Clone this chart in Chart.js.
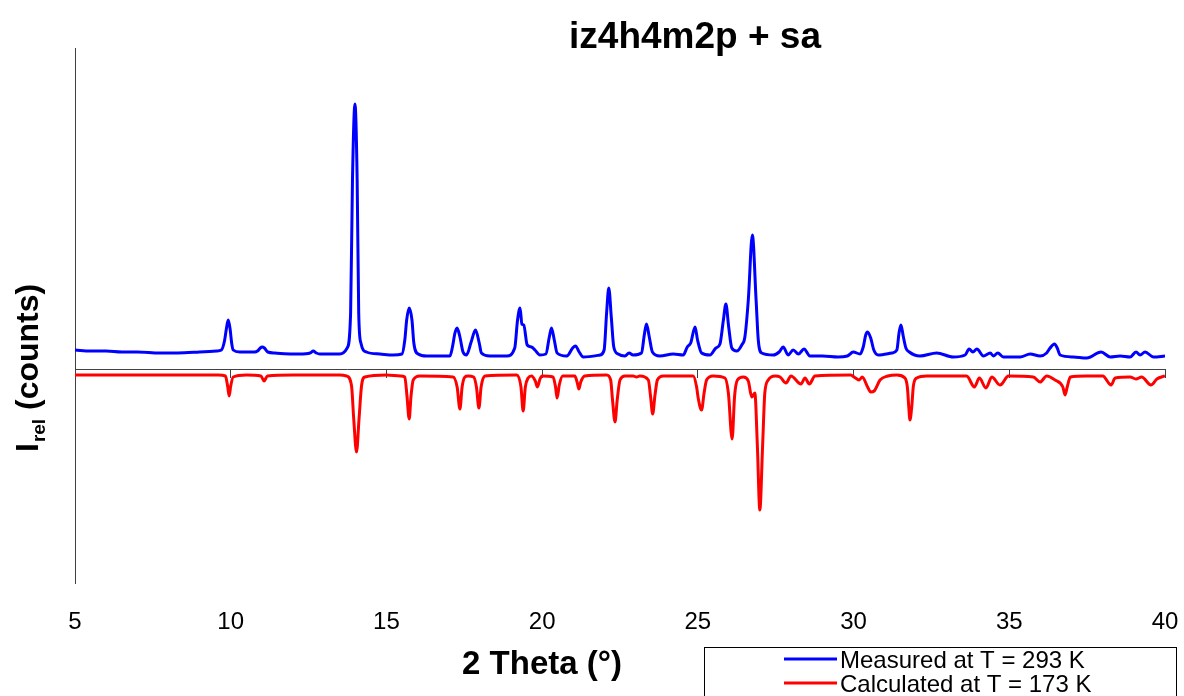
<!DOCTYPE html>
<html><head><meta charset="utf-8">
<script src="https://cdn.jsdelivr.net/npm/chart.js@4.4.1/dist/chart.umd.min.js"></script>
<style>html,body{margin:0;padding:0;background:#fff;}canvas{display:block;}</style>
</head><body>
<canvas id="c" width="1184" height="696"></canvas>
<script>
const chartTitle = 'iz4h4m2p + sa';
const xAxisTitle = '2 Theta (°)';
const yTitleMain = 'I';
const yTitleSub = 'rel';
const yTitleRest = ' (counts)';
const xTicks = [5, 10, 15, 20, 25, 30, 35, 40];
const measuredLabel = 'Measured at T = 293 K';
const calculatedLabel = 'Calculated at T = 173 K';

const measuredX = [5.00,5.50,6.00,6.50,7.00,7.72,8.30,9.00,9.55,9.70,9.80,9.86,9.92,9.98,10.03,10.08,10.29,10.77,10.86,10.95,11.01,11.08,11.19,11.42,12.22,12.55,12.65,12.75,12.86,13.50,13.74,13.85,13.91,13.99,14.06,14.11,14.18,14.36,14.79,15.22,15.50,15.59,15.65,15.73,15.82,15.88,16.02,16.29,17.04,17.12,17.20,17.27,17.36,17.46,17.57,17.72,17.86,17.98,18.05,18.32,18.86,19.12,19.21,19.29,19.35,19.41,19.52,19.66,19.77,19.93,20.12,20.23,20.30,20.39,20.48,20.79,20.98,21.07,21.19,21.32,21.86,21.99,22.07,22.14,22.22,22.30,22.44,22.66,22.79,22.92,23.19,23.28,23.35,23.44,23.54,23.78,24.21,24.53,24.66,24.77,24.91,24.99,25.12,25.39,25.58,25.71,25.82,25.90,25.99,26.09,26.25,26.41,26.51,26.62,26.75,26.87,26.94,27.05,27.42,27.61,27.74,27.90,28.06,28.23,28.41,28.60,29.00,29.50,29.80,29.99,30.21,30.31,30.39,30.45,30.55,30.65,30.79,31.23,31.39,31.46,31.52,31.60,31.68,31.79,32.13,32.67,33.20,33.58,33.71,33.83,33.96,34.17,34.39,34.49,34.63,34.81,35.35,35.67,35.99,36.20,36.31,36.45,36.54,36.63,37.06,37.49,37.95,38.24,38.56,38.88,39.07,39.20,39.36,39.63,40.00];
const measuredY = [19,18,18,17,17,16,16,17,18,19,28,40,49,40,26,19,17,17,18,21,22,21,17,16,15,16,18,16,15,15,21,56,189,265,189,56,26,17,15,14,15,29,49,61,49,26,15,13,13,22,36,41,32,17,14,27,39,26,16,13,13,21,49,61,45,44,24,22,19,14,15,32,41,29,16,13,21,23,17,12,14,19,56,81,52,22,15,13,16,14,16,34,45,32,17,13,15,14,22,26,42,29,16,14,21,25,49,65,42,21,18,24,32,69,134,69,29,16,14,17,22,14,19,15,20,13,13,12,13,17,15,22,34,37,31,19,14,16,19,36,44,32,21,17,13,16,12,14,20,17,20,13,16,13,16,12,12,15,13,16,21,25,21,14,12,11,17,12,13,12,17,14,17,12,13];

const calculatedX = [5.00,9.60,9.83,9.90,9.95,10.00,10.08,10.50,10.97,11.07,11.18,12.00,13.50,13.72,13.88,13.95,14.04,14.12,14.20,14.31,15.00,15.45,15.59,15.66,15.73,15.79,15.86,16.07,17.14,17.27,17.36,17.43,17.52,17.62,17.80,17.89,17.97,18.04,18.16,19.18,19.32,19.39,19.46,19.55,19.66,19.78,19.85,19.93,20.00,20.35,20.43,20.48,20.55,20.66,21.05,21.13,21.18,21.24,21.37,22.07,22.20,22.26,22.34,22.41,22.50,22.66,22.92,23.03,23.14,23.41,23.48,23.55,23.62,23.70,23.89,24.85,24.96,25.01,25.12,25.20,25.28,25.49,25.87,25.98,26.10,26.18,26.27,26.46,26.62,26.73,26.83,26.91,26.99,27.08,27.15,27.26,27.48,27.64,27.83,27.99,28.31,28.44,28.58,28.76,29.90,30.06,30.18,30.28,30.45,30.55,30.66,30.85,31.10,31.39,31.65,31.73,31.77,31.81,31.87,31.92,32.03,32.35,33.63,33.88,34.04,34.25,34.44,34.70,34.76,34.97,35.77,35.99,36.20,36.47,36.72,36.79,36.86,36.96,37.48,38.00,38.27,38.40,38.88,39.07,39.25,39.55,39.74,40.00];
const calculatedY = [-6,-6,-7,-17,-27,-17,-8,-6,-7,-12,-7,-6,-6,-7,-17,-50,-83,-50,-17,-8,-6,-7,-8,-27,-50,-27,-11,-7,-8,-18,-40,-18,-8,-7,-8,-18,-39,-18,-7,-6,-18,-42,-18,-9,-7,-12,-18,-10,-7,-8,-18,-29,-16,-7,-7,-14,-20,-13,-7,-6,-11,-31,-53,-31,-11,-7,-7,-8,-7,-11,-27,-45,-27,-11,-7,-7,-18,-29,-41,-24,-11,-7,-9,-24,-70,-27,-11,-8,-12,-28,-24,-76,-141,-76,-24,-11,-7,-8,-14,-7,-15,-9,-15,-7,-6,-9,-11,-8,-18,-23,-22,-11,-7,-6,-9,-19,-37,-51,-37,-17,-9,-7,-7,-18,-9,-19,-8,-16,-15,-7,-8,-13,-7,-11,-18,-26,-18,-8,-7,-7,-16,-9,-8,-10,-8,-16,-10,-7];

const FONT = '"Liberation Sans", Arial, Helvetica, sans-serif';

function zip(xs, ys) { return xs.map((x, i) => ({ x: x, y: ys[i] })); }
function setTicks(scale) { scale.ticks = xTicks.map(v => ({ value: v })); }
function noSidePad(s) { s.paddingLeft = 0; s.paddingRight = 0; }

const textPlugin = {
  id: 'texts',
  afterDraw(chart) {
    const ctx = chart.ctx;
    ctx.save();
    ctx.fillStyle = '#000';
    ctx.textBaseline = 'alphabetic';
    ctx.font = 'bold 37px ' + FONT;
    ctx.textAlign = 'center';
    ctx.fillText(chartTitle, 695, 48);
    ctx.font = 'bold 33px ' + FONT;
    ctx.fillText(xAxisTitle, 542, 674);
    ctx.save();
    ctx.translate(38, 452);
    ctx.rotate(-Math.PI / 2);
    ctx.textAlign = 'left';
    ctx.font = 'bold 32px ' + FONT;
    ctx.fillText(yTitleMain, 0, 0);
    let w = ctx.measureText(yTitleMain).width;
    ctx.font = 'bold 19px ' + FONT;
    ctx.fillText(yTitleSub, w + 1, 7);
    w += 1 + ctx.measureText(yTitleSub).width;
    ctx.font = 'bold 32px ' + FONT;
    ctx.fillText(yTitleRest, w, 0);
    ctx.restore();
    ctx.fillStyle = '#fff';
    ctx.fillRect(704.5, 647.5, 472, 60);
    ctx.strokeStyle = '#000';
    ctx.lineWidth = 1;
    ctx.strokeRect(704.5, 647.5, 472, 60);
    const ds = chart.data.datasets;
    const rows = [659, 683];
    const bases = [668, 692];
    ds.forEach((d, i) => {
      ctx.strokeStyle = d.borderColor;
      ctx.lineWidth = 3;
      ctx.beginPath();
      ctx.moveTo(784, rows[i]);
      ctx.lineTo(837, rows[i]);
      ctx.stroke();
      ctx.fillStyle = '#000';
      ctx.font = '24px ' + FONT;
      ctx.textAlign = 'left';
      ctx.fillText(d.label, 840, bases[i]);
    });
    ctx.restore();
  }
};

new Chart(document.getElementById('c'), {
  type: 'line',
  data: {
    datasets: [
      { label: measuredLabel, data: zip(measuredX, measuredY), borderColor: '#0000FF', borderWidth: 3,
        pointRadius: 0, cubicInterpolationMode: 'monotone', xAxisID: 'x', yAxisID: 'y' },
      { label: calculatedLabel, data: zip(calculatedX, calculatedY), borderColor: '#FF0000', borderWidth: 3,
        pointRadius: 0, cubicInterpolationMode: 'monotone', xAxisID: 'x', yAxisID: 'y' }
    ]
  },
  options: {
    responsive: false,
    animation: false,
    devicePixelRatio: 1,
    layout: { padding: { left: 0, right: 19, top: 48, bottom: 0 } },
    plugins: { legend: { display: false }, title: { display: false }, tooltip: { enabled: false } },
    scales: {
      x: {
        type: 'linear', axis: 'x', position: 'bottom', min: 5, max: 40,
        afterBuildTicks: setTicks,
        afterFit: s => { s.height = 113; noSidePad(s); },
        ticks: { font: { family: FONT, size: 24 }, color: '#000', padding: 25, maxRotation: 0, autoSkip: false },
        grid: { display: false, drawTicks: false },
        border: { display: false }
      },
      x0: {
        type: 'linear', axis: 'x', position: { y: 0 }, min: 5, max: 40,
        afterBuildTicks: setTicks,
        afterFit: noSidePad,
        ticks: { display: false },
        grid: { display: true, drawOnChartArea: false, drawTicks: true, tickLength: 8, color: '#404040', lineWidth: 1 },
        border: { display: true, color: '#404040', width: 1 }
      },
      y: {
        type: 'linear', position: 'left', min: -214, max: 321,
        afterFit: s => { s.width = 75; },
        ticks: { display: false },
        grid: { display: false },
        border: { display: true, color: '#404040', width: 1 }
      }
    }
  },
  plugins: [textPlugin]
});
</script>
</body></html>
